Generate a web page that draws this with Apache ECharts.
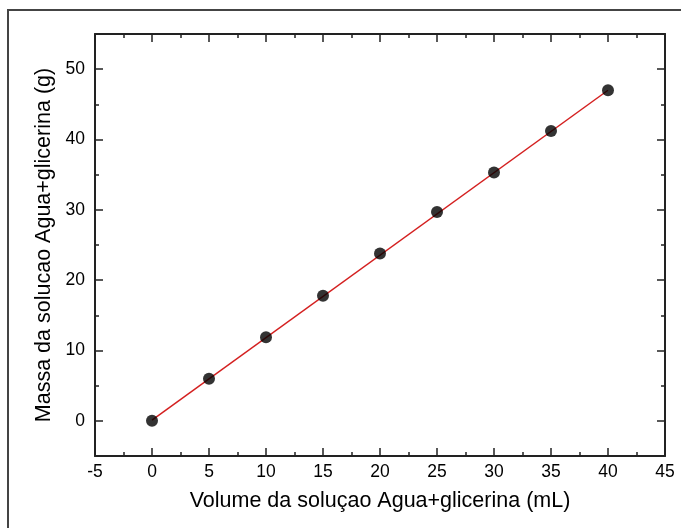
<!DOCTYPE html>
<html>
<head>
<meta charset="utf-8">
<script src="https://cdn.jsdelivr.net/npm/echarts@6/dist/echarts.min.js"></script>
<style>
  html, body { margin: 0; padding: 0; background: #fff; }
  #chart { width: 681px; height: 528px; }
</style>
</head>
<body>
<div id="chart"></div>
<script>
// measured points
const volume = [0, 5, 10, 15, 20, 25, 30, 35, 40];
const massa = [0, 6.0, 11.9, 17.8, 23.8, 29.7, 35.3, 41.2, 47.0];
// red fitted line, endpoints
const fitX = [0, 40];
const fitY = [0.1, 47.0];
// tick values
const yMajor = [0, 10, 20, 30, 40, 50];
const yMinor = [5, 15, 25, 35, 45];

const FONT = "Liberation Sans, Arial, sans-serif";
const AXIS_COLOR = "#222";

const chart = echarts.init(document.getElementById("chart"));

const baseX = {
  type: "value",
  min: -5,
  max: 45,
  interval: 5,
  splitLine: { show: false },
  axisLine: { show: true, onZero: false, lineStyle: { color: AXIS_COLOR, width: 2 } },
  axisTick: { show: true, inside: true, length: 8, lineStyle: { color: AXIS_COLOR, width: 1.5 } },
  minorTick: { show: true, splitNumber: 2, length: 4, lineStyle: { color: AXIS_COLOR, width: 1.5 } }
};

const baseY = {
  type: "value",
  min: -5,
  max: 55,
  splitLine: { show: false },
  axisLine: { show: true, onZero: false, lineStyle: { color: AXIS_COLOR, width: 2 } }
};

const option = {
  animation: false,
  backgroundColor: "#fff",
  grid: { left: 95, right: 16, top: 34, bottom: 72 },
  graphic: [
    {
      type: "rect",
      shape: { x: 8, y: 10, width: 700, height: 540 },
      style: { fill: "none", stroke: "#444", lineWidth: 2 },
      silent: true
    }
  ],
  xAxis: [
    Object.assign({}, baseX, {
      position: "bottom",
      name: "Volume da soluçao Agua+glicerina (mL)",
      nameLocation: "middle",
      nameGap: 34,
      nameTextStyle: { fontFamily: FONT, fontSize: 21.5, color: "#000" },
      axisLabel: { fontFamily: FONT, fontSize: 17.5, color: "#000", margin: 7 }
    }),
    Object.assign({}, baseX, {
      position: "top",
      axisLabel: { show: false }
    })
  ],
  yAxis: [
    Object.assign({}, baseY, {
      position: "left",
      name: "Massa da solucao Agua+glicerina (g)",
      nameLocation: "middle",
      nameGap: 37,
      nameTextStyle: { fontFamily: FONT, fontSize: 21.5, color: "#000" },
      axisLabel: { customValues: yMajor, fontFamily: FONT, fontSize: 17.5, color: "#000", margin: 10 },
      axisTick: { customValues: yMajor, inside: true, length: 8, lineStyle: { color: AXIS_COLOR, width: 1.5 } }
    }),
    Object.assign({}, baseY, {
      position: "left",
      axisLine: { show: false, onZero: false },
      axisLabel: { show: false },
      axisTick: { customValues: yMinor, inside: true, length: 4, lineStyle: { color: AXIS_COLOR, width: 1.5 } }
    }),
    Object.assign({}, baseY, {
      position: "right",
      axisLabel: { show: false },
      axisTick: { customValues: yMajor, inside: true, length: 8, lineStyle: { color: AXIS_COLOR, width: 1.5 } }
    }),
    Object.assign({}, baseY, {
      position: "right",
      axisLine: { show: false, onZero: false },
      axisLabel: { show: false },
      axisTick: { customValues: yMinor, inside: true, length: 4, lineStyle: { color: AXIS_COLOR, width: 1.5 } }
    })
  ],
  series: [
    {
      name: "ajuste",
      type: "line",
      xAxisIndex: 0,
      yAxisIndex: 0,
      data: fitX.map((x, i) => [x, fitY[i]]),
      showSymbol: false,
      lineStyle: { color: "#d42020", width: 1.5 },
      z: 2
    },
    {
      name: "massa",
      type: "scatter",
      xAxisIndex: 0,
      yAxisIndex: 0,
      data: volume.map((v, i) => [v, massa[i]]),
      symbol: "circle",
      symbolSize: 12,
      itemStyle: { color: "#000" },
      z: 3
    }
  ]
};

chart.setOption(option);
</script>
</body>
</html>
